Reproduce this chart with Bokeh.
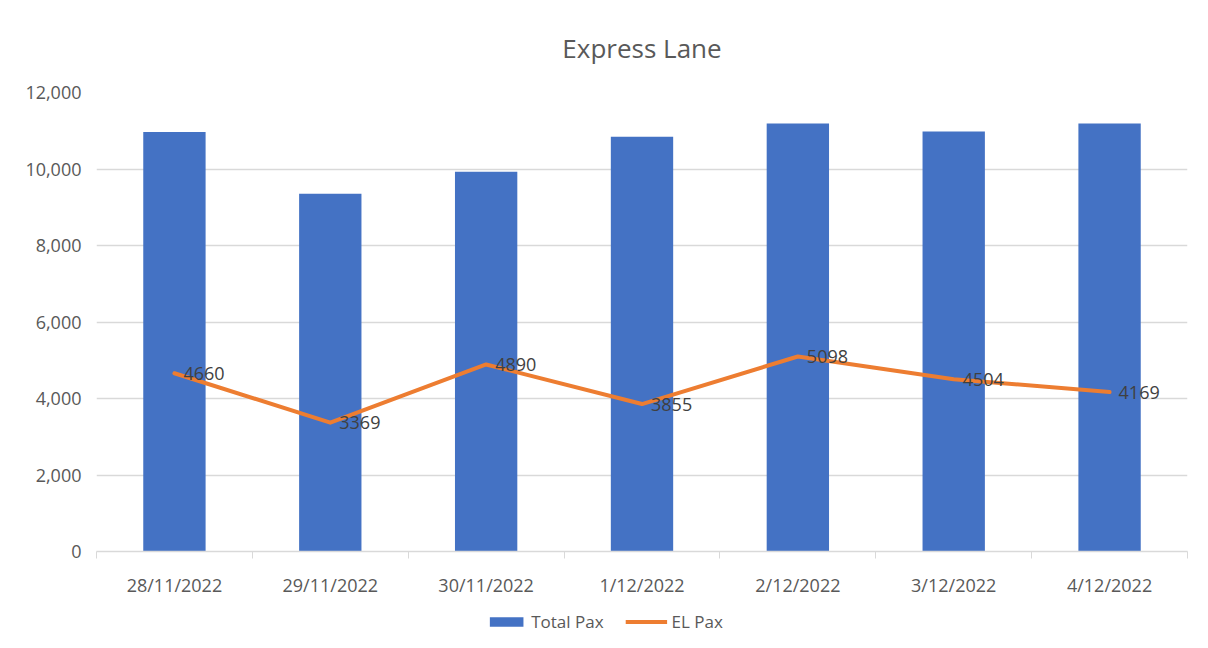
from bokeh.plotting import figure
from bokeh.layouts import column
from bokeh.models import (ColumnDataSource, FixedTicker, NumeralTickFormatter, Range1d,
                          Legend, LegendItem)
from bokeh.core.properties import value
from bokeh.embed import file_html
from bokeh.resources import INLINE

dates = ["28/11/2022", "29/11/2022", "30/11/2022", "1/12/2022", "2/12/2022", "3/12/2022", "4/12/2022"]
total_pax = [10970, 9350, 9930, 10840, 11190, 10980, 11190]
el_pax = [4660, 3369, 4890, 3855, 5098, 4504, 4169]
y_ticks = [0, 2000, 4000, 6000, 8000, 10000, 12000]
series_names = ["Total Pax", "EL Pax"]

FONT = "Open Sans"
TXT = "#595959"
BLUE = "#4472C4"
ORANGE = "#ED7D31"

xs = [i + 0.5 for i in range(len(dates))]
src = ColumnDataSource(dict(x=xs, total=total_pax, el=el_pax, lab=[str(v) for v in el_pax]))

p = figure(frame_width=1091, frame_height=459, output_backend="svg", toolbar_location=None,
           x_range=Range1d(0, len(dates)), y_range=Range1d(0, 12000),
           min_border_left=96, min_border_right=21, min_border_top=90, min_border_bottom=51)

p.title.text = "Express Lane"
p.title.align = "center"
p.title.text_font = FONT
p.title.text_font_size = "26px"
p.title.text_font_style = "normal"
p.title.text_color = TXT
p.title.standoff = 54

p.outline_line_color = None
p.background_fill_color = "white"
p.border_fill_color = "white"

p.vbar(x="x", top="total", width=0.4, source=src, fill_color=BLUE, line_color=None)
p.line(x="x", y="el", source=src, line_color=ORANGE, line_width=4, line_join="round",
       line_cap="round")
p.text(x="x", y="el", text="lab", source=src, x_offset=9, text_baseline="middle",
       text_font=value(FONT), text_font_size="18px", text_color="#404040")

# X axis
xa = p.xaxis[0]
xa.ticker = FixedTicker(ticks=xs, minor_ticks=list(range(len(dates) + 1)))
xa.major_label_overrides = {x: d for x, d in zip(xs, dates)}
xa.major_tick_line_color = None
xa.minor_tick_line_color = "#d9d9d9"
xa.minor_tick_in = 0
xa.minor_tick_out = 7
xa.axis_line_color = "#d9d9d9"
xa.axis_line_width = 1.5
xa.major_label_text_font = FONT
xa.major_label_text_font_size = "18px"
xa.major_label_text_color = TXT
xa.major_label_standoff = 14
p.xgrid.grid_line_color = None

# Y axis
ya = p.yaxis[0]
ya.ticker = FixedTicker(ticks=y_ticks)
ya.formatter = NumeralTickFormatter(format="0,0")
ya.axis_line_color = None
ya.major_tick_line_color = None
ya.minor_tick_line_color = None
ya.major_label_text_font = FONT
ya.major_label_text_font_size = "18px"
ya.major_label_text_color = TXT
ya.major_label_standoff = 9
p.ygrid.grid_line_color = "#d9d9d9"
p.ygrid.grid_line_width = 1.5

# Legend strip below the chart (proxy renderers lie outside the visible range)
lg = figure(frame_width=1208, frame_height=38, output_backend="svg", toolbar_location=None,
            x_axis_location=None, y_axis_location=None,
            x_range=Range1d(0, 1), y_range=Range1d(0, 1),
            min_border_left=0, min_border_right=0, min_border_top=0, min_border_bottom=0)
lg.outline_line_color = None
lg.grid.grid_line_color = None
lg.background_fill_color = "white"
lg.border_fill_color = "white"
proxy = ColumnDataSource(dict(x=[-5, -4], top=[-5, -5], y=[-5, -5]))
r_bar = lg.vbar(x="x", top="top", width=0.4, source=proxy, fill_color=BLUE, line_color=None)
r_line = lg.line(x="x", y="y", source=proxy, line_color=ORANGE, line_width=4)

legend = Legend(items=[LegendItem(label=series_names[0], renderers=[r_bar]),
                       LegendItem(label=series_names[1], renderers=[r_line])],
                orientation="horizontal", location="center",
                label_text_font=FONT, label_text_font_size="17px", label_text_color=TXT,
                glyph_width=42, glyph_height=12, spacing=22, label_standoff=4,
                border_line_color=None, background_fill_alpha=0, padding=2, margin=0)
lg.add_layout(legend, "center")

layout = column(p, lg, spacing=0)
open("out.html", "w").write(file_html(layout, INLINE))
